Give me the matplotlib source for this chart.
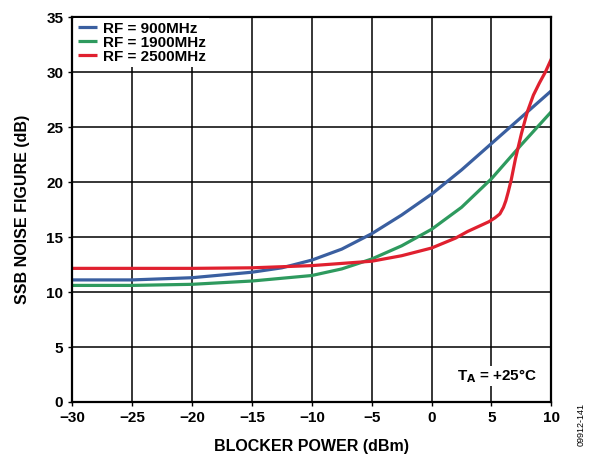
import matplotlib
matplotlib.use("Agg")
import matplotlib.pyplot as plt

plt.rcParams['font.family'] = ['Liberation Sans', 'DejaVu Sans']
plt.rcParams['font.weight'] = 'bold'

x_blue = [-30, -25, -20, -15, -12.5, -10, -7.5, -5, -2.5, 0, 2.5, 5, 7.5, 10]
y_blue = [11.1, 11.1, 11.3, 11.8, 12.2, 12.9, 13.9, 15.3, 17.0, 18.9, 21.1, 23.5, 25.9, 28.3]
x_green = [-30, -25, -20, -15, -10, -7.5, -5, -2.5, 0, 2.5, 5, 7.5, 10]
y_green = [10.6, 10.6, 10.7, 11.0, 11.5, 12.1, 13.0, 14.2, 15.7, 17.7, 20.3, 23.4, 26.4]
x_red = [-30, -20, -15, -10, -5, -2.5, 0, 2, 3, 4, 4.8, 5.3, 5.7, 6.0, 6.2, 6.4, 6.65, 7.0, 7.5, 8.0, 8.5, 9.0, 9.5, 10]
y_red = [12.15, 12.15, 12.2, 12.4, 12.8, 13.3, 14.0, 14.9, 15.5, 16.0, 16.4, 16.75, 17.1, 17.7, 18.3, 19.1, 20.2, 22.1, 24.4, 26.4, 27.9, 29.0, 30.0, 31.2]

labels = ['RF = 900MHz', 'RF = 1900MHz', 'RF = 2500MHz']
colors = ['#3a5fa0', '#2e9a5e', '#e0202f']
xticks = [-30, -25, -20, -15, -10, -5, 0, 5, 10]
xticklabels = ['\u221230', '\u221225', '\u221220', '\u221215', '\u221210', '\u22125', '0', '5', '10']
yticks = [0, 5, 10, 15, 20, 25, 30, 35]

fig = plt.figure(figsize=(5.9, 4.55), dpi=100)
ax = fig.add_axes([0.1225, 0.1165, 0.812, 0.846])

for xs, ys, lab, c in zip([x_blue, x_green, x_red], [y_blue, y_green, y_red], labels, colors):
    ax.plot(xs, ys, color=c, lw=2.3, label=lab, solid_capstyle='butt', solid_joinstyle='round')

ax.set_xlim(-30, 10)
ax.set_ylim(0, 35)
ax.set_xticks(xticks)
ax.set_xticklabels(xticklabels)
ax.set_yticks(yticks)
ax.grid(True, color='black', lw=1.1)
ax.set_axisbelow(True)
for s in ax.spines.values():
    s.set_linewidth(1.6)
ax.tick_params(axis='both', labelsize=11, direction='out', length=3, width=1)
for t in ax.get_xticklabels() + ax.get_yticklabels():
    t.set_fontweight('bold')

ax.set_xlabel('BLOCKER POWER (dBm)', fontsize=11.5, fontweight='bold', labelpad=10)
ax.set_ylabel('SSB NOISE FIGURE (dB)', fontsize=11.5, fontweight='bold', labelpad=12)

leg = ax.legend(loc='upper left', bbox_to_anchor=(-0.005, 1.01), frameon=True, fancybox=False,
                edgecolor='none', facecolor='white', framealpha=1, fontsize=11,
                handlelength=1.2, handletextpad=0.4, labelspacing=0.0, borderpad=0.25,
                borderaxespad=0.3)
for t in leg.get_texts():
    t.set_fontweight('bold')

ax.text(0.97, 0.045, r'T$_\mathbf{A}$ = +25°C', transform=ax.transAxes, ha='right', va='bottom',
        fontsize=11, fontweight='bold',
        bbox=dict(facecolor='white', edgecolor='none', pad=1))

fig.text(0.985, 0.02, '09912-141', rotation=90, fontsize=6.5, ha='center', va='bottom', fontweight='normal')

fig.savefig('out.png', dpi=100)
